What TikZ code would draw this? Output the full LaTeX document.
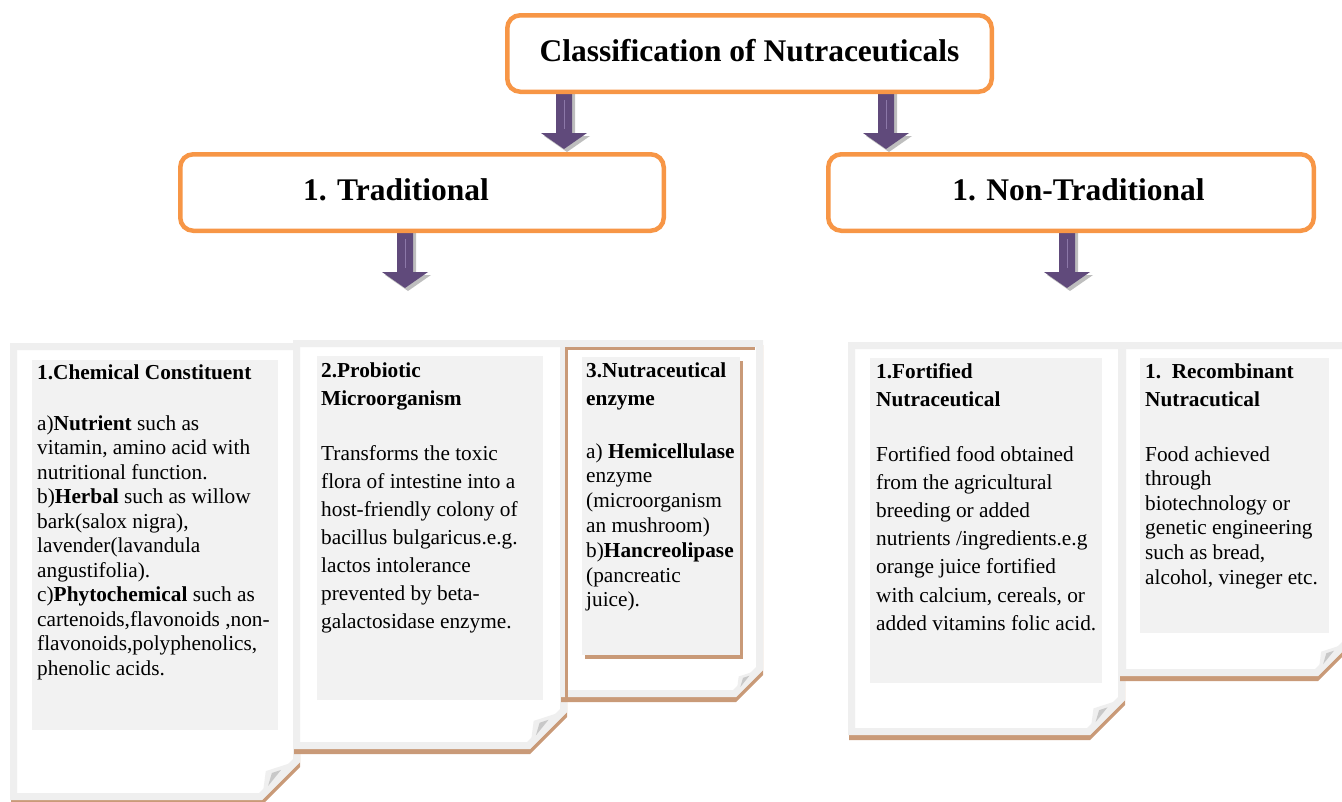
\documentclass[tikz,border=0pt]{standalone}
\usepackage{fontspec}
\setmainfont{Liberation Serif}
\usetikzlibrary{calc}
\definecolor{orng}{HTML}{F79646}
\definecolor{purp}{HTML}{604A7B}
\definecolor{purphi}{HTML}{8C78A8}
\definecolor{shad}{HTML}{BEBEBE}
\definecolor{pgborder}{HTML}{EFEFEF}
\definecolor{txtbg}{HTML}{F2F2F2}
\definecolor{pgtan}{HTML}{C99A78}
\definecolor{foldd}{HTML}{C8C8C8}
\tikzset{
  headbox/.style={draw=orng, line width=4.5pt, rounded corners=13pt, fill=white, inner sep=0pt},
  headtext/.style={font=\fontsize{31.5}{36}\selectfont\bfseries, anchor=base, inner sep=0pt},
  bodytext/.style={anchor=base west, inner sep=0pt, align=left},
}
\newcommand\blockarr[3]{%
  \fill[shad,shift={(3,3)}] (#1-8,#2) -- (#1+8,#2) -- (#1+8,#3-16) -- (#1+23,#3-16) -- (#1,#3) -- (#1-23,#3-16) -- (#1-8,#3-16) -- cycle;
  \fill[purp] (#1-8,#2) -- (#1+8,#2) -- (#1+8,#3-16) -- (#1+23,#3-16) -- (#1,#3) -- (#1-23,#3-16) -- (#1-8,#3-16) -- cycle;
  \draw[purphi,line width=0.8pt] (#1,#2+10) -- (#1,#3-20);
}
\newcommand\docpage[5]{%
  \fill[pgtan] (#1+1,#2+5) -- (#3,#2+5) -- (#3,#4-#5+5) -- (#3-#5,#4+5) -- (#1+1,#4+5) -- cycle;
  \filldraw[fill=white,draw=pgborder,line width=7pt,line join=miter]
    (#1+3.5,#2+3.5) -- (#3-3.5,#2+3.5) -- (#3-3.5,#4-#5-1.5) -- (#3-#5-1.5,#4-3.5) -- (#1+3.5,#4-3.5) -- cycle;
  \fill[pgborder] (#3-#5,#4) -- (#3-0.9*#5,#4-0.76*#5) -- (#3-0.16*#5,#4-#5) -- (#3,#4-#5) -- cycle;
  \fill[foldd] (#3-0.84*#5,#4-0.37*#5) -- (#3-0.5*#5,#4-0.79*#5) -- (#3-0.74*#5,#4-0.71*#5) -- cycle;
}
\begin{document}
\begin{tikzpicture}[x=1pt,y=-1pt]
\useasboundingbox (0,0) rectangle (1342,801);

% block arrows
\blockarr{564}{90}{149}
\blockarr{886}{90}{149}
\blockarr{405}{229}{288}
\blockarr{1067}{229}{288}

% heading boxes
\node[headbox, minimum width=484.5pt, minimum height=76.5pt, text height=22pt, text depth=7pt,
      font=\fontsize{31.5}{36}\selectfont\bfseries] (top) at (749.5,53.5) {Classification of Nutraceuticals};
\node[headbox, minimum width=483.5pt, minimum height=76.5pt] (trad) at (422,192.5) {};
\node[headtext] (tradt) at (396,200) {1. Traditional};
\node[headbox, minimum width=485.5pt, minimum height=76.5pt] (ntrad) at (1071,192.5) {};
\node[headtext] (ntradt) at (1078.5,200) {1. Non-Traditional};

% pages, left group
\docpage{10}{343}{300}{800}{38}
\fill[txtbg] (32,360) rectangle (278,730);
\docpage{293}{340}{567}{749}{37}
\fill[txtbg] (317,356) rectangle (543,700);
\docpage{560}{340}{763}{697}{27}
\draw[pgtan,line width=3pt] (566.5,702) -- (566.5,348.5) -- (755,348.5);
\fill[pgtan] (585,361) rectangle (743,659);
\fill[txtbg] (582,357) rectangle (740,655);

% pages, right group
\docpage{848}{342}{1125}{735}{35}
\fill[txtbg] (870,358) rectangle (1102,683);
\docpage{1119}{342}{1350}{676}{32}
\fill[txtbg] (1140,358) rectangle (1329,633);

% texts (anchor = baseline of the last line)
\node[bodytext, font=\fontsize{21.3}{24.5}\selectfont\bfseries] (t1) at (37,379) {1.Chemical Constituent};
\node[bodytext, font=\fontsize{21.3}{24.5}\selectfont] (b1) at (37,675) {a)\textbf{Nutrient} such as\\
vitamin, amino acid with\\
nutritional function.\\
b)\textbf{Herbal} such as willow\\
bark(salox nigra),\\
lavender(lavandula\\
angustifolia).\\
c)\textbf{Phytochemical} such as\\
cartenoids,flavonoids ,non-\\
flavonoids,polyphenolics,\\
phenolic acids.};

\node[bodytext, font=\fontsize{21.3}{28}\selectfont\bfseries] (t2) at (321,405) {2.Probiotic\\Microorganism};
\node[bodytext, font=\fontsize{21.3}{28}\selectfont] (b2) at (321,628) {Transforms the toxic\\
flora of intestine into a\\
host-friendly colony of\\
bacillus bulgaricus.e.g.\\
lactos intolerance\\
prevented by beta-\\
galactosidase enzyme.};

\node[bodytext, font=\fontsize{21.3}{28}\selectfont\bfseries] (t3) at (586,405) {3.Nutraceutical\\enzyme};
\node[bodytext, font=\fontsize{21.3}{24.8}\selectfont] (b3) at (586,606.8) {a) \textbf{Hemicellulase}\\
enzyme\\
(microorganism\\
an mushroom)\\
b)\textbf{Hancreolipase}\\
(pancreatic\\
juice).};

\node[bodytext, font=\fontsize{21.3}{28}\selectfont\bfseries] (t4) at (876,406) {1.Fortified\\Nutraceutical};
\node[bodytext, font=\fontsize{21.3}{28.2}\selectfont] (b4) at (876,630.2) {Fortified food obtained\\
from the agricultural\\
breeding or added\\
nutrients /ingredients.e.g\\
orange juice fortified\\
with calcium, cereals, or\\
added vitamins folic acid.};

\node[bodytext, font=\fontsize{21.3}{28}\selectfont\bfseries] (t5) at (1145,406) {1.\ \ Recombinant\\Nutracutical};
\node[bodytext, font=\fontsize{21.3}{24.6}\selectfont] (b5) at (1145,584) {Food achieved\\
through\\
biotechnology or\\
genetic engineering\\
such as bread,\\
alcohol, vineger etc.};
\end{tikzpicture}
\end{document}
